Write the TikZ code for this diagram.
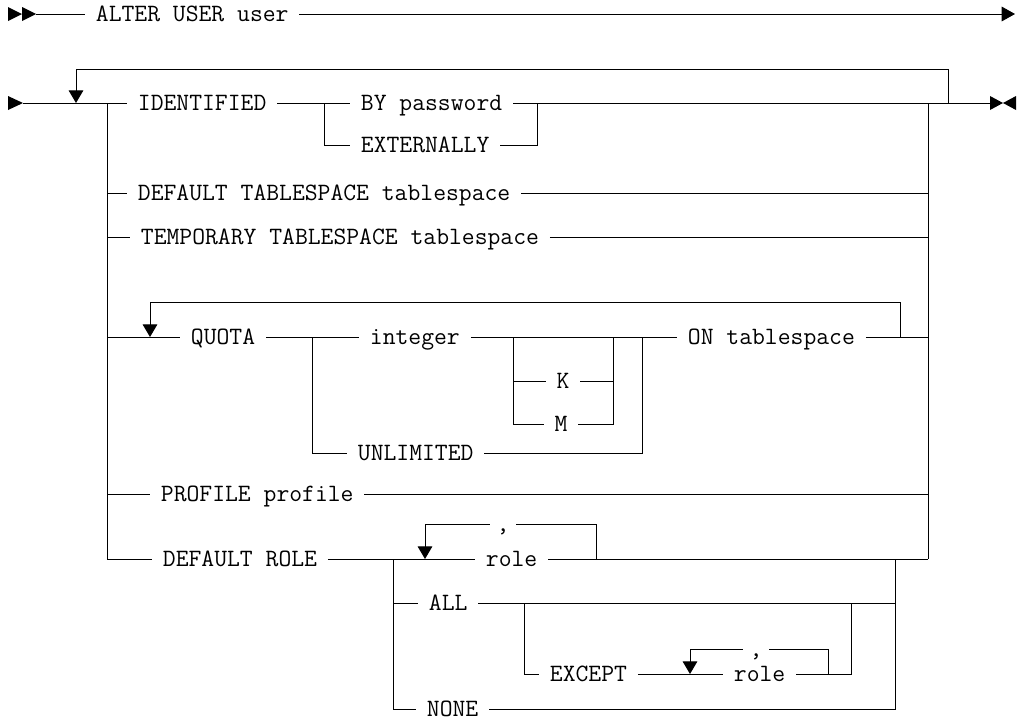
\documentclass[tikz,border=0pt]{standalone}
\usetikzlibrary{arrows.meta}
\tikzset{
  kw/.style={font=\ttfamily\fontsize{18.7}{20}\selectfont, inner xsep=8pt, inner ysep=0pt,
             text height=11.4pt, text depth=0pt, anchor=west},
  sep/.style={kw, anchor=center, inner xsep=5pt},
  rail/.style={line width=0.75pt},
  back/.style={rail, -{Triangle[length=9.5pt,width=11pt]}},
}
\begin{document}
\begin{tikzpicture}[x=0.75pt, y=-0.75pt]
    \useasboundingbox (0,0) rectangle (1018,721);

    % Statement head
    \fill (8,7) -- (22,14) -- (8,21) -- cycle;
    \fill (22,7) -- (36,14) -- (22,21) -- cycle;
    \coordinate (head) at (36,14);
    \coordinate (cont) at (1015,14);
    \node[kw] (alter) at (85,14) {ALTER USER user};
    \draw[rail] (head) -- (alter);
    \draw[rail, -{Triangle[length=10pt,width=11pt]}] (alter) -- (cont);

    % Main loop
    \fill (8,96) -- (23,103) -- (8,110) -- cycle;
    \fill (990,96) -- (1003,103) -- (990,110) -- cycle;
    \fill (1016,96) -- (1003,103) -- (1016,110) -- cycle;
    \coordinate (start) at (23,103);
    \coordinate (stop) at (990,103);
    \draw[back] (948,103) -- (948,69) -| (76,103);

    % IDENTIFIED
    \node[kw] (ident) at (127,103) {IDENTIFIED};
    \node[kw] (bypw) at (350,103) {BY password};
    \node[kw] (extern) at (350,145) {EXTERNALLY};
    \draw[rail] (start) -- (ident);
    \draw[rail] (ident) -- (bypw);
    \draw[rail] (bypw) -- (stop);
    \draw[rail] (324,103) |- (extern);
    \draw[rail] (extern) -| (537,103);

    % Tablespaces
    \node[kw] (deftbs) at (127,193) {DEFAULT TABLESPACE tablespace};
    \node[kw] (tmptbs) at (130,237) {TEMPORARY TABLESPACE tablespace};
    \draw[rail] (107,193) -- (deftbs) -- (928,193);
    \draw[rail] (107,237) -- (tmptbs) -- (928,237);

    % QUOTA
    \node[kw] (quota) at (180,337) {QUOTA};
    \node[kw] (intg) at (359,337) {integer};
    \node[kw] (unlim) at (347,453) {UNLIMITED};
    \node[sep, inner xsep=8pt] (kilo) at (563,381) {K};
    \node[sep, inner xsep=8pt] (mega) at (561,424) {M};
    \node[kw] (ontbs) at (677,337) {ON tablespace};
    \draw[back] (900,337) -- (900,302) -| (150,337);
    \draw[rail] (107,337) -- (quota);
    \draw[rail] (quota) -- (intg);
    \draw[rail] (intg) -- (ontbs);
    \draw[rail] (312,337) |- (unlim);
    \draw[rail] (unlim) -| (642,337);
    \draw[rail] (513,337) |- (mega);
    \draw[rail] (513,381) -- (kilo);
    \draw[rail] (kilo) -| (613,337);
    \draw[rail] (mega) -| (613,381);
    \draw[rail] (ontbs) -- (928,337);

    % PROFILE
    \node[kw] (prof) at (150,494) {PROFILE profile};
    \draw[rail] (107,494) -- (prof) -- (928,494);

    % DEFAULT ROLE
    \node[kw] (defrole) at (152,559) {DEFAULT ROLE};
    \node[kw] (role) at (475,559) {role};
    \node[sep] (comma) at (503,524) {,};
    \draw[rail] (107,103) |- (defrole);
    \draw[rail] (928,103) -- (928,559);
    \draw[rail] (defrole) -- (role);
    \draw[rail] (role) -- (928,559);
    \draw[rail] (596,559) |- (comma);
    \draw[back] (comma) -| (425,559);

    % ALL / EXCEPT / NONE
    \node[kw] (all) at (418,603) {ALL};
    \node[kw] (except) at (539,674) {EXCEPT};
    \node[kw] (exrole) at (723,674) {role};
    \node[sep] (excomma) at (756,649) {,};
    \node[kw] (none) at (416,709) {NONE};
    \draw[rail] (393,559) |- (none);
    \draw[rail] (393,603) -- (all);
    \draw[rail] (all) -- (895,603);
    \draw[rail] (none) -| (895,559);
    \draw[rail] (524,603) |- (except);
    \draw[rail] (except) -- (exrole);
    \draw[rail] (exrole) -| (851,603);
    \draw[rail] (828,674) |- (excomma);
    \draw[back] (excomma) -| (690,674);
\end{tikzpicture}
\end{document}
